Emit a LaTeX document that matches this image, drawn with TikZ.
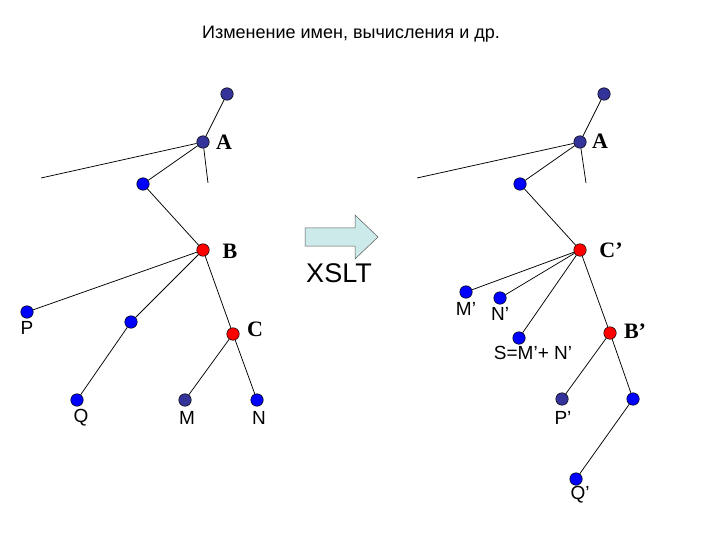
\documentclass[tikz,border=0pt]{standalone}
\usepackage{fontspec}
\setmainfont{Liberation Sans}
\newfontfamily\bserif{Liberation Serif}
\definecolor{dotnavy}{RGB}{51,51,153}
\definecolor{dotblue}{RGB}{0,0,255}
\definecolor{dotred}{RGB}{255,0,0}
\definecolor{arrfill}{RGB}{204,234,234}
\tikzset{
  dot/.style={circle,draw=black,line width=.5pt,minimum size=12.5pt,inner sep=0pt},
  nv/.style={dot,fill=dotnavy},
  bl/.style={dot,fill=dotblue},
  rd/.style={dot,fill=dotred},
  lbl/.style={inner sep=0pt,font=\fontsize{19}{21}\selectfont},
  blbl/.style={inner sep=0pt,font=\fontsize{22}{24}\bserif\bfseries},
  edge/.style={line width=.75pt}
}
\begin{document}
\begin{tikzpicture}[x=1pt,y=-1pt]
\useasboundingbox (0,0) rectangle (720,540);
\node[font=\fontsize{18}{20}\selectfont] (title) at (351,34) {Изменение имен, вычисления и др.};
% source tree
\node[nv] (top) at (227,94) {};
\node[nv] (a) at (203,142) {};
\coordinate (aleft) at (41,178);
\coordinate (astub) at (208,183);
\node[bl] (u) at (143,184) {};
\node[rd] (b) at (203,250) {};
\node[bl] (p) at (27,312) {};
\node[bl] (v) at (131,322) {};
\node[rd] (c) at (233,334) {};
\node[bl] (q) at (77,400) {};
\node[nv] (m) at (185,400) {};
\node[bl] (n) at (257,400) {};
\draw[edge] (top)--(a) (a)--(aleft) (a)--(astub) (a)--(u) (u)--(b)
  (b)--(p) (b)--(v) (b)--(c) (v)--(q) (c)--(m) (c)--(n);
\node[blbl] (la) at (224,142) {A};
\node[blbl] (lb) at (230,251) {B};
\node[blbl] (lc) at (255,329) {C};
\node[lbl] (lp) at (27,328) {P};
\node[lbl] (lq) at (81,418) {Q};
\node[lbl] (lm) at (187,418) {M};
\node[lbl] (ln) at (259,418) {N};
% transformation
\draw[fill=arrfill,draw=gray!70!black,line width=.5pt] (305,228)--(355,228)--(355,215)--(378,237)
  --(355,259)--(355,246)--(305,246)--cycle;
\node[font=\fontsize{27}{30}\selectfont,inner sep=0pt] (xslt) at (339,273) {XSLT};
% result tree
\node[nv] (top2) at (604,94) {};
\node[nv] (a2) at (580,142) {};
\coordinate (aleft2) at (417,178);
\coordinate (astub2) at (586,183);
\node[bl] (u2) at (520,184) {};
\node[rd] (c2) at (580,250) {};
\node[bl] (m2) at (466,292) {};
\node[bl] (n2) at (500,298) {};
\node[bl] (s2) at (519,338) {};
\node[rd] (b2) at (610,333) {};
\node[nv] (p2) at (562,399) {};
\node[bl] (w2) at (633,399) {};
\node[bl] (q2) at (576,479) {};
\draw[edge] (top2)--(a2) (a2)--(aleft2) (a2)--(astub2) (a2)--(u2) (u2)--(c2)
  (c2)--(m2) (c2)--(n2) (c2)--(s2) (c2)--(b2) (b2)--(p2) (b2)--(w2) (w2)--(q2);
\node[blbl] (la2) at (600,141) {A};
\node[blbl] (lc2) at (611,250) {C’};
\node[blbl] (lb2) at (635,331) {B’};
\node[lbl] (lm2) at (466,309) {M’};
\node[lbl] (ln2) at (500,314) {N’};
\node[lbl] (ls2) at (533,353) {S=M’+ N’};
\node[lbl] (lp2) at (563,418) {P’};
\node[lbl] (lq2) at (580,495) {Q’};
\end{tikzpicture}
\end{document}
